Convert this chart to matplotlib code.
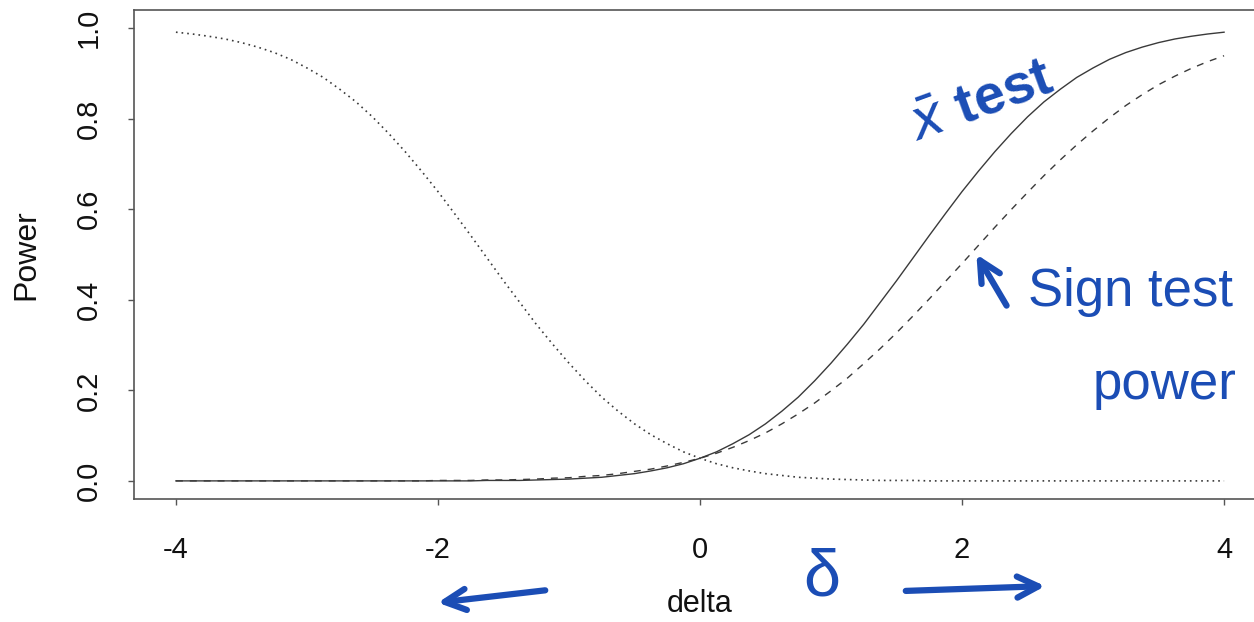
import matplotlib.pyplot as plt

plt.rcParams['font.family'] = ['Liberation Sans', 'DejaVu Sans']
plt.rcParams['mathtext.fontset'] = 'dejavusans'

delta = [-4.0, -3.875, -3.75, -3.625, -3.5, -3.375, -3.25, -3.125,
         -3.0, -2.875, -2.75, -2.625, -2.5, -2.375, -2.25, -2.125,
         -2.0, -1.875, -1.75, -1.625, -1.5, -1.375, -1.25, -1.125,
         -1.0, -0.875, -0.75, -0.625, -0.5, -0.375, -0.25, -0.125,
         0.0, 0.125, 0.25, 0.375, 0.5, 0.625, 0.75, 0.875,
         1.0, 1.125, 1.25, 1.375, 1.5, 1.625, 1.75, 1.875,
         2.0, 2.125, 2.25, 2.375, 2.5, 2.625, 2.75, 2.875,
         3.0, 3.125, 3.25, 3.375, 3.5, 3.625, 3.75, 3.875, 4.0]

# x-bar test (solid)
xbar_power = [0.000, 0.000, 0.000, 0.000, 0.000, 0.000, 0.000, 0.000,
              0.000, 0.000, 0.000, 0.000, 0.000, 0.000, 0.000, 0.000,
              0.000, 0.000, 0.000, 0.001, 0.001, 0.001, 0.002, 0.003,
              0.004, 0.006, 0.008, 0.012, 0.016, 0.022, 0.029, 0.038,
              0.050, 0.064, 0.082, 0.102, 0.126, 0.154, 0.185, 0.221,
              0.260, 0.302, 0.346, 0.394, 0.442, 0.492, 0.542, 0.591,
              0.639, 0.684, 0.727, 0.767, 0.804, 0.837, 0.865, 0.891,
              0.912, 0.931, 0.946, 0.958, 0.968, 0.976, 0.982, 0.987, 0.991]

# sign test (dashed)
sign_power = [0.000, 0.000, 0.000, 0.000, 0.000, 0.000, 0.000, 0.000,
              0.000, 0.000, 0.000, 0.000, 0.000, 0.000, 0.000, 0.000,
              0.001, 0.001, 0.001, 0.002, 0.002, 0.003, 0.004, 0.006,
              0.007, 0.010, 0.012, 0.016, 0.021, 0.026, 0.033, 0.041,
              0.050, 0.061, 0.074, 0.089, 0.106, 0.126, 0.148, 0.172,
              0.199, 0.227, 0.259, 0.292, 0.327, 0.364, 0.402, 0.441,
              0.480, 0.520, 0.560, 0.599, 0.637, 0.674, 0.709, 0.742,
              0.773, 0.802, 0.829, 0.853, 0.875, 0.894, 0.911, 0.926, 0.939]

# lower-tail test (dotted)
lower_power = [0.991, 0.987, 0.982, 0.976, 0.968, 0.958, 0.946, 0.931,
               0.912, 0.891, 0.865, 0.837, 0.804, 0.767, 0.727, 0.684,
               0.639, 0.591, 0.542, 0.492, 0.442, 0.394, 0.346, 0.302,
               0.260, 0.221, 0.185, 0.154, 0.126, 0.102, 0.082, 0.064,
               0.050, 0.038, 0.029, 0.022, 0.016, 0.012, 0.008, 0.006,
               0.004, 0.003, 0.002, 0.001, 0.001, 0.001, 0.000, 0.000,
               0.000, 0.000, 0.000, 0.000, 0.000, 0.000, 0.000, 0.000,
               0.000, 0.000, 0.000, 0.000, 0.000, 0.000, 0.000, 0.000, 0.000]

W, H = 1254, 622
fig = plt.figure(figsize=(W / 100, H / 100), dpi=100)
ax = fig.add_axes([134 / W, (H - 499) / H, (1266 - 134) / W, (499 - 10) / H])

line_col = '#3a3a3a'
ax.plot(delta, xbar_power, color=line_col, lw=1.0)
ax.plot(delta, sign_power, color=line_col, lw=1.0, dashes=(5, 5))
ax.plot(delta, lower_power, color=line_col, lw=1.2, dashes=(1, 2.4))

ax.set_xlim(-4.32, 4.32)
ax.set_ylim(-0.04, 1.04)
ax.set_xticks([-4, -2, 0, 2, 4])
ax.set_yticks([0.0, 0.2, 0.4, 0.6, 0.8, 1.0])
ax.set_xticklabels(['-4', '-2', '0', '2', '4'])
ax.set_yticklabels(['0.0', '0.2', '0.4', '0.6', '0.8', '1.0'], rotation=90, va='center')

for s in ax.spines.values():
    s.set_color('#555555')
    s.set_linewidth(1.2)
ax.tick_params(direction='out', length=4.3, width=1, color='#555555',
               labelsize=21, labelcolor='#111111')
ax.tick_params(axis='x', pad=22)
ax.tick_params(axis='y', pad=18)

ax.set_xlabel('delta', fontsize=22, color='#111111', labelpad=18)
ax.set_ylabel('Power', fontsize=23, color='#111111', labelpad=24)

# handwritten notes
blue = '#1b4db5'
fig.text(982, H - 103, r'$\bar{x}$ test', fontsize=40, color=blue, fontweight='bold',
         rotation=20, ha='center', va='center', transform=None)
fig.text(1130, H - 292, 'Sign test', fontsize=38, color=blue,
         ha='center', va='center', transform=None)
fig.text(1165, H - 385, 'power', fontsize=38, color=blue,
         ha='center', va='center', transform=None)
fig.text(822, H - 578, 'δ', fontsize=48, color=blue,
         ha='center', va='center', transform=None)

arrow = dict(arrowstyle='->', lw=4.5, color=blue, mutation_scale=38)
ax.annotate('', xy=(975, H - 252), xytext=(1008, H - 308), xycoords='figure pixels',
            textcoords='figure pixels', arrowprops=arrow, annotation_clip=False)
ax.annotate('', xy=(435, H - 603), xytext=(548, H - 590), xycoords='figure pixels',
            textcoords='figure pixels', arrowprops=arrow, annotation_clip=False)
ax.annotate('', xy=(1048, H - 586), xytext=(903, H - 591), xycoords='figure pixels',
            textcoords='figure pixels', arrowprops=arrow, annotation_clip=False)

fig.savefig('out.png', dpi=100)
